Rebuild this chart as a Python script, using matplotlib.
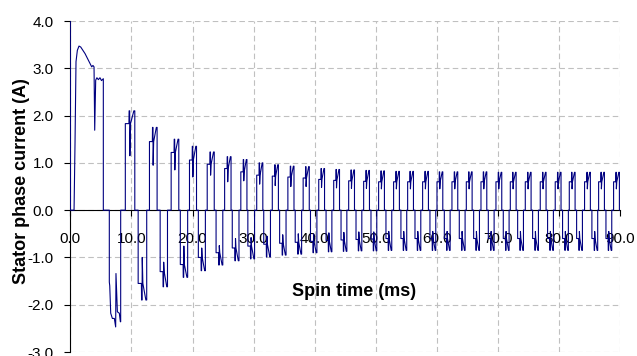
import numpy as np
import matplotlib
matplotlib.use("Agg")
import matplotlib.pyplot as plt
from matplotlib.ticker import MultipleLocator, FormatStrFormatter

plt.rcParams['font.family'] = ['Liberation Sans', 'DejaVu Sans']
plt.rcParams['axes.unicode_minus'] = False

# --- start-up transient: first spike, first positive and negative pulse (read point by point)
spike_t = [0.0, 0.02]
spike_v = [4.2, 0.0]

first_pos_t = [0.61, 0.77, 0.93, 1.15, 1.42, 1.70, 2.41, 2.95, 3.50, 3.70, 3.88,
               3.99, 4.15, 4.35, 4.59, 4.85, 5.10, 5.40, 5.40]
first_pos_v = [0.0, 1.44, 3.14, 3.38, 3.47, 3.45, 3.31, 3.17, 3.03, 3.06, 3.03,
               1.69, 2.75, 2.80, 2.76, 2.80, 2.74, 2.78, 0.0]

first_neg_t = [6.38, 6.38, 6.45, 6.61, 6.88, 7.20, 7.42, 7.47, 7.70, 8.02, 8.19, 8.24, 8.24]
first_neg_v = [0.0, -1.52, -1.60, -2.18, -2.29, -2.29, -2.47, -1.34, -2.15, -2.18, -2.36, -2.36, 0.0]

# --- remaining commutation pulses (ms, A)
pos_start = [9.0, 12.95, 16.5, 19.5, 22.4, 25.25, 27.9, 30.5, 33.05, 35.6, 38.1,
             40.65, 43.1, 45.55, 48.0, 50.45, 52.9, 55.2, 57.65, 60.0, 62.45,
             64.8, 67.2, 69.65, 72.0, 74.45, 76.9, 79.35, 81.65, 84.15, 86.45, 88.9]
pos_end = [10.55, 14.2, 17.75, 20.65, 23.55, 26.3, 28.9, 31.5, 34.05, 36.6, 39.1,
           41.6, 44.05, 46.5, 48.95, 51.4, 53.85, 56.15, 58.6, 60.95, 63.4,
           65.75, 68.15, 70.6, 72.95, 75.4, 77.85, 80.3, 82.6, 85.1, 87.4, 89.85]
pos_lo = [1.83, 1.45, 1.22, 1.06, 0.97, 0.88, 0.81, 0.74, 0.72, 0.70, 0.68,
          0.65, 0.63, 0.62, 0.61, 0.60, 0.60, 0.60, 0.60, 0.60, 0.60,
          0.60, 0.60, 0.60, 0.60, 0.60, 0.60, 0.60, 0.60, 0.60, 0.60, 0.60]
pos_hi = [2.10, 1.75, 1.50, 1.35, 1.23, 1.13, 1.07, 1.00, 0.96, 0.93, 0.92,
          0.88, 0.86, 0.85, 0.84, 0.83, 0.82, 0.82, 0.82, 0.81, 0.81,
          0.81, 0.81, 0.80, 0.80, 0.80, 0.80, 0.80, 0.80, 0.80, 0.80, 0.80]
pos_notch = [1.15, 0.95, 0.85, 0.70, 0.74, 0.60, 0.62, 0.55, 0.52, 0.50, 0.50,
             0.48, 0.47, 0.46, 0.46, 0.45, 0.45, 0.45, 0.45, 0.45, 0.45,
             0.45, 0.45, 0.45, 0.45, 0.45, 0.45, 0.45, 0.45, 0.45, 0.45, 0.45]

neg_start = [11.1, 14.7, 18.0, 20.95, 23.85, 26.5, 29.05, 31.65, 34.25, 36.8, 39.3,
             41.85, 44.3, 46.75, 49.2, 51.65, 54.1, 56.4, 58.85, 61.2, 63.65,
             66.0, 68.4, 70.85, 73.2, 75.65, 78.1, 80.55, 82.85, 85.35, 87.65]
neg_end = [12.5, 15.9, 19.2, 22.1, 24.95, 27.6, 30.15, 32.75, 35.3, 37.85, 40.35,
           42.8, 45.25, 47.7, 50.15, 52.6, 55.05, 57.35, 59.8, 62.15, 64.6,
           66.95, 69.35, 71.8, 74.15, 76.6, 79.05, 81.5, 83.8, 86.3, 88.6]
neg_lo = [-1.55, -1.30, -1.15, -1.00, -0.90, -0.80, -0.76, -0.72, -0.70, -0.68, -0.66,
          -0.64, -0.63, -0.62, -0.61, -0.60, -0.60, -0.60, -0.60, -0.60, -0.60,
          -0.60, -0.60, -0.60, -0.60, -0.60, -0.60, -0.60, -0.60, -0.60, -0.60]
neg_hi = [-1.90, -1.62, -1.42, -1.28, -1.16, -1.07, -1.03, -0.99, -0.95, -0.93, -0.90,
          -0.88, -0.87, -0.86, -0.86, -0.85, -0.85, -0.85, -0.85, -0.85, -0.85,
          -0.85, -0.85, -0.85, -0.85, -0.85, -0.85, -0.85, -0.85, -0.85, -0.85]
neg_notch = [-1.00, -1.10, -0.76, -0.80, -0.75, -0.60, -0.58, -0.55, -0.52, -0.50, -0.50,
             -0.48, -0.47, -0.46, -0.46, -0.45, -0.45, -0.45, -0.45, -0.45, -0.45,
             -0.45, -0.45, -0.45, -0.45, -0.45, -0.45, -0.45, -0.45, -0.45, -0.45]


def pulse(s, e, lo, hi, notch):
    # rise to lo, step up to hi, short notch, back to lo, climb to hi, fall
    w = e - s
    tt = [s, s, s + 0.38 * w, s + 0.40 * w, s + 0.46 * w, s + 0.48 * w,
          s + 0.55 * w, s + 0.90 * w, e, e]
    vv = [0, lo, lo, hi, hi, notch, lo, hi, hi, 0]
    return tt, vv


segments = [(spike_t, spike_v), (first_pos_t, first_pos_v), (first_neg_t, first_neg_v)]
for i in range(len(pos_start)):
    segments.append(pulse(pos_start[i], pos_end[i], pos_lo[i], pos_hi[i], pos_notch[i]))
for i in range(len(neg_start)):
    segments.append(pulse(neg_start[i], neg_end[i], neg_lo[i], neg_hi[i], neg_notch[i]))
segments.sort(key=lambda sg: sg[0][0])

t = np.concatenate([sg[0] for sg in segments] + [[90.0]])
v = np.concatenate([sg[1] for sg in segments] + [[0.0]])

fig = plt.figure(figsize=(6.37, 3.56), dpi=100)
ax = fig.add_axes([0.1104, 0.0112, 0.8634, 0.9298])

ax.plot(t, v, color='#000080', lw=0.8, zorder=3)

ax.set_xlim(0, 90)
ax.set_ylim(-3, 4)
ax.xaxis.set_major_locator(MultipleLocator(10))
ax.yaxis.set_major_locator(MultipleLocator(1))
ax.xaxis.set_major_formatter(FormatStrFormatter('%.1f'))
ax.yaxis.set_major_formatter(FormatStrFormatter('%.1f'))

ax.spines['top'].set_visible(False)
ax.spines['right'].set_visible(False)
ax.spines['bottom'].set_position(('data', 0))
for sp in ['left', 'bottom']:
    ax.spines[sp].set_linewidth(0.8)

ax.grid(True, color='#c0c0c0', linestyle=(0, (5, 3)), lw=0.8)
ax.set_axisbelow(True)

ax.tick_params(axis='x', direction='out', length=4, width=0.8, pad=12, labelsize=11)
ax.tick_params(axis='y', direction='out', length=4, width=0.8, pad=8, labelsize=11)

ax.set_xlabel('Spin time (ms)', fontsize=13, fontweight='bold')
ax.xaxis.label.set_va('center')
ax.xaxis.set_label_coords(0.515, 0.184)
ax.set_ylabel('Stator phase current (A)', fontsize=13, fontweight='bold')
ax.yaxis.label.set_va('center')
ax.yaxis.set_label_coords(-0.089, 0.515)

fig.savefig('out.png', dpi=100)
